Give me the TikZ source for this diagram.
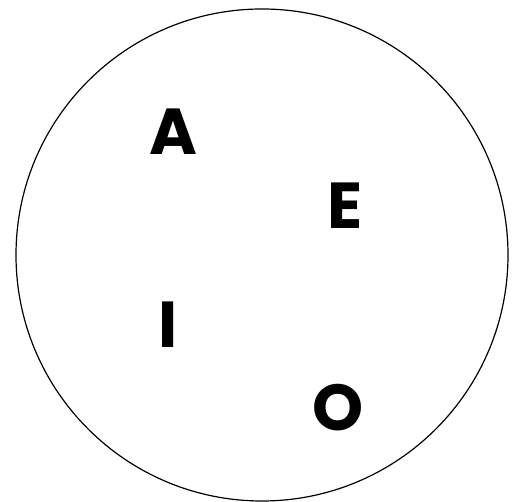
\documentclass[tikz,border=0pt]{standalone}
\usepackage{fontspec}
\setmainfont{Poppins}
\begin{document}
\begin{tikzpicture}[x=1pt,y=1pt,
  letter/.style={inner sep=0pt, anchor=base, font=\fontsize{65}{65}\selectfont\bfseries},
  ring/.style={draw=black, line width=1.2pt}]
\useasboundingbox (0,0) rectangle (519,502);
\node[ring, circle, minimum size=492pt, inner sep=0pt] (c) at (262,247) {};
\node[letter] (a) at (173.5,347) {A};
\node[letter] (e) at (345.5,273) {E};
\node[letter] (i) at (168.5,154) {I};
\node[letter] (o) at (338.5,71) {O};
\end{tikzpicture}
\end{document}
